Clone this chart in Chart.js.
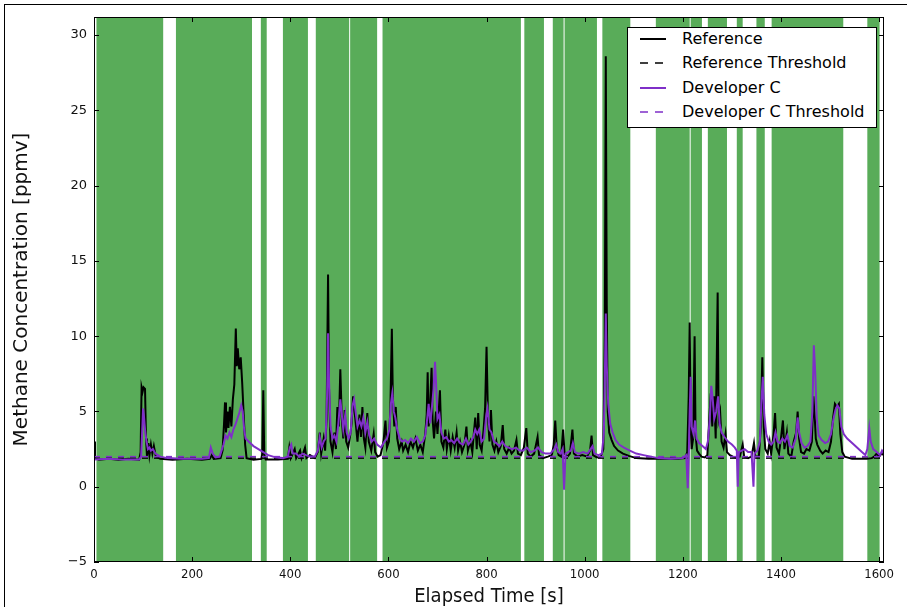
<!DOCTYPE html>
<html>
<head>
<meta charset="utf-8">
<script src="https://cdn.jsdelivr.net/npm/chart.js@4.4.1/dist/chart.umd.min.js"></script>
<style>
  body { margin: 0; background: #fff; }
  #wrap { position: relative; width: 912px; height: 610px; }
  #frame { position: absolute; left: 4px; top: 4px; width: 902px; height: 602px; border-left: 1px solid #000; border-top: 1px solid #000; pointer-events: none; }
  #legend { position: absolute; left: 627px; top: 27px; width: 248px; height: 99px; background: #fff; border: 1px solid #000; font: 16px "DejaVu Sans", sans-serif; color: #000; }
  .row { position: absolute; left: 0; width: 248px; height: 24px; line-height: 24px; }
  .row svg { position: absolute; left: 12px; top: 10px; }
  .row span { position: absolute; left: 54px; white-space: nowrap; }
</style>
</head>
<body>
<div id="wrap">
  <canvas id="chart" width="912" height="610"></canvas>
  <div id="frame"></div>
  <div id="legend">
    <div class="row" style="top:-1px"><svg width="26" height="4"><line x1="0" y1="2" x2="26" y2="2" stroke="#000" stroke-width="2"/></svg><span>Reference</span></div>
    <div class="row" style="top:23px"><svg width="26" height="4"><line x1="0" y1="2" x2="26" y2="2" stroke="#000" stroke-width="1.5" stroke-dasharray="8 7"/></svg><span>Reference Threshold</span></div>
    <div class="row" style="top:48px"><svg width="26" height="4"><line x1="0" y1="2" x2="26" y2="2" stroke="#7f2fc8" stroke-width="2"/></svg><span>Developer C</span></div>
    <div class="row" style="top:72px"><svg width="26" height="4"><line x1="0" y1="2" x2="26" y2="2" stroke="#7f2fc8" stroke-width="1.5" stroke-dasharray="8 7"/></svg><span>Developer C Threshold</span></div>
  </div>
</div>
<script>
// elapsed time [s] and methane concentration [ppmv]
var refTime = [0,2,10,30,50,70,92,95,97,99,101,104,106,108,111,113,116,119,122,126,135,160,190,220,236,240,244,258,
  262,265,267,269,272,274,277,280,283,286,289,291,293,296,299,302,305,308,311,325,341,343,345,347,350,375,395,398,401,
  409,412,420,423,430,433,440,450,456,460,463,468,471,474,477,479,482,486,490,493,496,499,502,505,508,511,514,518,522,
  525,528,531,534,537,541,544,547,550,553,557,560,565,570,573,578,584,590,594,597,601,604,607,609,612,615,618,622,627,
  630,635,640,645,650,655,660,665,670,675,678,680,682,685,688,690,693,697,700,705,708,712,716,719,723,727,731,735,739,
  742,746,750,755,759,762,767,771,774,777,780,783,786,790,794,797,800,803,806,809,812,816,820,824,829,833,836,841,846,
  851,856,861,864,870,876,881,884,890,897,904,907,915,925,933,937,940,943,947,952,956,959,965,970,975,978,985,995,1005,
  1011,1014,1017,1025,1033,1038,1041,1043,1045,1047,1050,1055,1060,1068,1078,1090,1105,1130,1160,1190,1205,1209,1212,
  1214,1216,1218,1221,1224,1226,1229,1233,1238,1245,1250,1254,1257,1260,1264,1267,1271,1273,1276,1279,1283,1287,1290,
  1296,1302,1308,1316,1322,1325,1333,1340,1345,1348,1355,1359,1362,1365,1368,1373,1377,1380,1385,1388,1391,1396,1400,
  1404,1407,1412,1415,1421,1426,1431,1434,1437,1441,1447,1452,1458,1463,1466,1469,1471,1474,1480,1485,1491,1497,1502,
  1506,1510,1514,1518,1521,1525,1530,1545,1560,1575,1585,1590,1595,1600,1605,1610];
var refValue = [3.0,1.9,1.8,1.85,1.8,1.85,1.8,2.3,6.6,6.3,6.6,6.5,3.2,2.0,2.9,2.1,2.8,2.2,2.7,2.0,1.85,1.8,1.85,1.8,1.85,2.1,1.85,1.9,
  2.4,4.2,5.6,3.6,5.0,3.9,5.3,4.0,5.8,6.8,10.5,8.0,9.2,7.8,8.6,6.9,4.8,2.8,1.9,1.8,1.85,2.2,6.4,2.1,1.8,1.8,1.85,2.6,1.9,
  2.5,1.9,2.4,1.9,2.6,1.9,2.1,1.9,2.3,3.6,2.2,3.2,2.4,4.5,14.1,6.5,3.0,2.3,3.6,2.5,5.3,4.0,7.8,4.5,3.2,5.1,3.0,2.6,3.4,
  4.2,6.0,5.0,4.0,3.0,4.8,3.3,5.3,3.2,2.6,4.9,3.0,2.4,3.5,2.3,2.0,2.1,3.0,4.4,2.6,3.0,5.2,10.5,6.0,4.0,5.3,3.2,2.5,3.0,
  2.4,2.8,2.3,3.0,2.6,3.2,2.4,2.8,2.3,3.5,4.8,7.6,4.0,5.5,7.9,4.5,3.2,5.0,3.5,6.4,3.0,2.6,3.8,2.5,3.4,2.4,3.3,2.6,3.6,
  2.4,3.0,2.3,2.8,4.0,2.4,3.0,2.3,3.5,4.6,2.5,4.9,2.8,2.4,3.8,5.2,9.3,4.5,3.0,5.1,2.8,2.4,3.0,2.3,2.7,4.1,2.5,2.2,2.6,
  2.2,2.4,3.1,2.2,2.1,2.6,3.9,2.2,2.0,2.2,3.3,2.1,1.9,2.0,2.1,2.8,4.4,2.6,2.1,2.0,3.8,2.2,2.0,2.2,3.8,2.2,2.0,2.1,2.0,
  2.4,3.4,2.1,1.95,2.0,2.5,10.0,28.6,12.0,5.0,3.6,3.1,2.7,2.4,2.2,2.05,1.9,1.85,1.85,1.85,1.9,2.3,6.0,
  10.9,4.0,2.5,3.2,10.0,3.5,2.4,2.2,2.0,1.95,2.1,4.5,6.2,4.0,6.0,3.2,12.9,4.5,5.0,3.0,2.6,3.5,2.3,
  2.1,2.0,1.95,2.0,2.8,2.0,1.9,2.0,2.9,2.0,2.0,4.0,8.6,4.0,2.5,2.2,3.0,2.2,3.5,4.9,2.6,2.2,3.2,
  4.4,2.5,3.6,2.2,2.0,3.0,3.6,5.0,3.2,2.3,2.2,2.5,2.4,3.0,6.0,4.5,3.2,2.8,2.4,2.2,2.4,2.3,3.0,
  4.5,5.5,5.3,5.5,3.5,2.3,2.0,1.85,1.85,1.85,1.9,2.0,2.2,2.0,2.2,2.1];

var devTime = [0,30,60,92,96,98,100,102,104,107,110,113,116,120,125,135,150,180,220,234,238,242,248,256,260,264,268,272,
  276,280,284,288,292,296,300,303,306,309,315,325,335,345,355,370,385,395,399,402,405,412,418,425,432,440,450,456,460,
  464,468,472,475,477,479,482,486,490,494,498,502,505,508,512,515,519,523,527,530,533,537,541,545,549,553,557,561,566,
  571,577,585,592,597,602,605,608,611,614,618,623,628,634,640,646,652,658,664,670,675,679,682,685,688,692,695,697,700,
  704,708,713,718,723,728,734,740,746,752,758,763,768,773,777,781,785,790,795,799,802,806,810,815,820,826,832,838,845,
  852,860,867,875,882,890,898,905,912,920,930,938,942,946,951,955,958,961,966,972,976,980,988,997,1006,1012,1016,1020,
  1028,1035,1039,1041,1043,1045,1048,1052,1057,1063,1070,1080,1092,1105,1120,1135,1150,1175,1200,1207,1210,1212,1214,
  1216,1218,1222,1225,1228,1233,1240,1247,1251,1255,1258,1261,1264,1268,1272,1275,1279,1285,1292,1300,1306,1310,1312,
  1314,1320,1326,1333,1340,1344,1346,1352,1357,1360,1363,1366,1370,1375,1380,1385,1389,1393,1398,1403,1408,1413,1418,
  1424,1430,1434,1437,1442,1448,1454,1460,1464,1467,1470,1473,1477,1483,1490,1496,1502,1507,1511,1515,1519,1523,1528,
  1535,1545,1555,1565,1572,1576,1580,1583,1588,1595,1602,1606,1610];
var devValue = [1.8,1.85,1.8,1.8,2.0,3.5,5.2,4.6,3.8,3.0,2.5,2.6,2.4,2.5,2.2,2.0,1.9,1.85,1.85,1.9,2.6,2.2,1.95,2.0,2.4,2.8,3.4,3.2,
  3.6,3.3,3.8,4.1,4.5,4.9,5.4,5.0,3.8,3.2,3.0,2.7,2.5,2.3,2.1,1.95,1.9,2.0,2.6,2.8,2.2,2.2,2.0,2.2,2.1,2.0,2.0,2.4,3.3,
  2.6,3.0,3.2,6.0,10.2,7.0,4.0,3.2,3.4,3.0,4.2,5.8,4.8,3.8,4.8,3.6,3.2,3.6,5.4,5.8,5.0,4.0,4.4,4.0,4.6,3.6,4.3,3.4,3.0,
  3.2,2.8,2.6,3.0,3.2,3.8,5.5,6.2,5.0,4.6,3.8,3.2,3.0,3.1,2.9,3.2,3.0,3.3,2.9,3.0,3.4,4.5,5.5,4.2,5.0,6.5,8.3,7.0,4.5,
  4.8,3.6,3.2,3.3,3.0,3.1,2.9,3.2,2.9,2.8,3.2,2.8,3.0,3.3,3.8,3.5,3.8,3.0,3.2,4.6,5.2,3.8,3.6,3.0,2.9,2.7,3.0,2.7,2.6,
  2.5,2.6,2.4,2.4,2.6,2.3,2.4,2.6,2.3,2.2,2.2,2.5,2.8,2.3,2.2,2.5,-0.2,2.2,2.3,2.4,2.9,2.3,2.2,2.3,2.2,2.5,2.7,2.2,
  2.1,2.2,3.5,7.0,11.5,8.0,5.5,4.2,3.6,3.1,2.8,2.6,2.4,2.2,2.1,2.0,1.9,1.85,1.9,2.1,-0.1,2.0,5.0,
  7.3,4.0,3.5,4.4,3.2,2.9,2.7,2.5,3.0,4.5,6.7,5.8,4.5,5.0,6.0,4.2,3.6,3.3,3.0,2.8,2.6,2.4,0.0,
  2.3,2.4,2.5,2.3,2.3,0.0,2.2,2.4,3.0,5.5,7.3,4.8,3.5,3.0,2.8,3.0,3.6,3.0,2.9,3.2,3.0,3.4,2.7,
  2.6,3.2,4.6,3.6,2.9,2.6,2.7,3.0,5.0,9.4,7.5,4.5,3.4,3.1,2.9,3.0,3.5,4.5,5.1,5.4,5.2,4.0,3.5,
  3.2,2.9,2.6,2.3,2.1,2.5,3.9,3.0,2.5,2.3,2.1,2.4,2.2];

var refThreshold = 1.9;
var devThreshold = 2.0;

// intervals shaded green (start / end, seconds)
var bandStart = [0,5,167,340,385,452,522,588,877,935,959,1036,1145,1216,1251,1310,1350,1381,1576];
var bandEnd   = [2,141,322,352,436,520,577,870,917,957,1025,1093,1214,1239,1290,1322,1367,1527,1601];

var xTicks = [0,200,400,600,800,1000,1200,1400,1600];
var yTicks = [-5,0,5,10,15,20,25,30];

function pts(t, v) { return t.map(function (x, i) { return { x: x, y: v[i] }; }); }
var xMin = 0, xMax = 1610, yMin = -5, yMax = 31.2;

var bands = {
  id: 'bands',
  beforeDatasetsDraw: function (chart) {
    var ctx = chart.ctx, a = chart.chartArea, x = chart.scales.x;
    ctx.save();
    ctx.beginPath(); ctx.rect(a.left, a.top, a.right - a.left, a.bottom - a.top); ctx.clip();
    ctx.fillStyle = 'rgba(0,128,0,0.65)';
    for (var i = 0; i < bandStart.length; i++) {
      var x0 = x.getPixelForValue(bandStart[i]), x1 = x.getPixelForValue(bandEnd[i]);
      ctx.fillRect(x0, a.top, x1 - x0, a.bottom - a.top);
    }
    ctx.restore();
  }
};

var frameTicks = {
  id: 'frameTicks',
  afterDatasetsDraw: function (chart) {
    var ctx = chart.ctx, a = chart.chartArea, x = chart.scales.x, y = chart.scales.y;
    ctx.save();
    ctx.strokeStyle = '#000';
    ctx.lineWidth = 1;
    ctx.beginPath();
    xTicks.forEach(function (t) {
      var p = Math.round(x.getPixelForValue(t)) + 0.5;
      ctx.moveTo(p, a.bottom); ctx.lineTo(p, a.bottom - 5);
      ctx.moveTo(p, a.top); ctx.lineTo(p, a.top + 5);
    });
    yTicks.forEach(function (t) {
      var p = Math.round(y.getPixelForValue(t)) + 0.5;
      ctx.moveTo(a.left, p); ctx.lineTo(a.left + 5, p);
      ctx.moveTo(a.right, p); ctx.lineTo(a.right - 5, p);
    });
    ctx.stroke();
    ctx.strokeRect(Math.round(a.left) + 0.5, Math.round(a.top) + 0.5, Math.round(a.right - a.left) - 1, Math.round(a.bottom - a.top) - 1);
    ctx.restore();
  }
};

function label(v) { return String(v).replace('-', '\u2212'); }

new Chart(document.getElementById('chart'), {
  type: 'line',
  data: {
    datasets: [
      { label: 'Reference', data: pts(refTime, refValue), borderColor: '#000', borderWidth: 2, order: 4 },
      { label: 'Reference Threshold', data: pts([xMin, xMax], [refThreshold, refThreshold]), borderColor: '#000', borderWidth: 1.5, borderDash: [6, 6], order: 3 },
      { label: 'Developer C', data: pts(devTime, devValue), borderColor: '#7f2fc8', borderWidth: 2, order: 2 },
      { label: 'Developer C Threshold', data: pts([xMin, xMax], [devThreshold, devThreshold]), borderColor: '#7f2fc8', borderWidth: 1.5, borderDash: [6, 6], order: 1 }
    ]
  },
  options: {
    responsive: false,
    animation: false,
    elements: { point: { radius: 0 }, line: { tension: 0, fill: false } },
    layout: { padding: { left: 0, top: 17, right: 28, bottom: 0 } },
    plugins: { legend: { display: false }, tooltip: { enabled: false } },
    scales: {
      x: {
        type: 'linear', min: xMin, max: xMax,
        afterFit: function (s) { s.height = 48; },
        afterBuildTicks: function (s) { s.ticks = xTicks.map(function (v) { return { value: v }; }); },
        grid: { display: false, drawTicks: false }, border: { display: false },
        ticks: { autoSkip: false, maxRotation: 0, padding: 5, color: '#111', font: { family: '"DejaVu Sans Condensed", "DejaVu Sans"', size: 13 }, callback: label },
        title: { display: true, text: 'Elapsed Time [s]', color: '#111', font: { family: '"DejaVu Sans Condensed", "DejaVu Sans"', size: 20 }, padding: { top: 0, bottom: 1 } }
      },
      y: {
        min: yMin, max: yMax,
        afterFit: function (s) { s.width = 94; },
        afterBuildTicks: function (s) { s.ticks = yTicks.map(function (v) { return { value: v }; }); },
        grid: { display: false, drawTicks: false }, border: { display: false },
        ticks: { autoSkip: false, padding: 7, color: '#111', font: { family: 'DejaVu Sans', size: 13 }, callback: label },
        title: { display: true, text: 'Methane Concentration [ppmv]', color: '#111', font: { family: 'DejaVu Sans', size: 20 }, padding: { top: 10, bottom: 0 } }
      }
    }
  },
  plugins: [bands, frameTicks]
});
</script>
</body>
</html>
